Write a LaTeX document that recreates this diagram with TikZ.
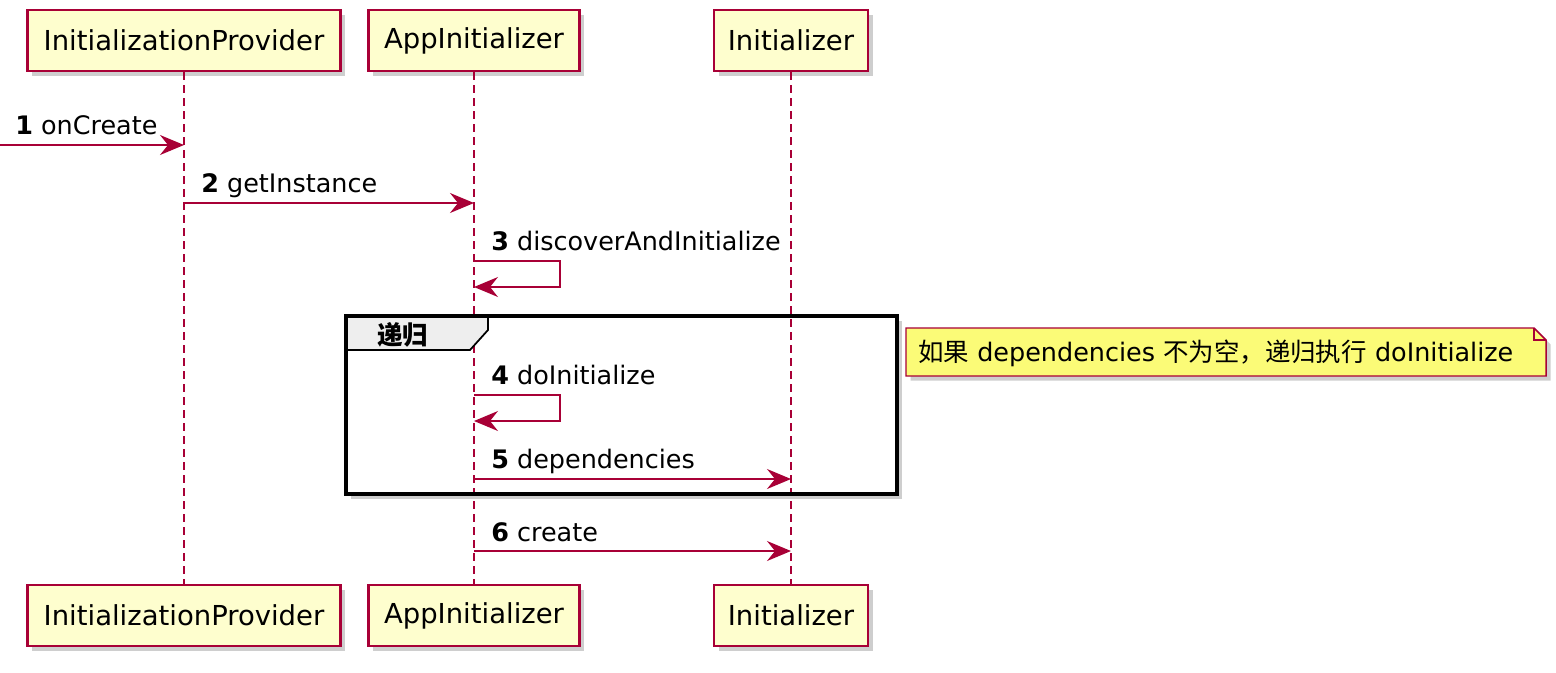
\documentclass[tikz,border=0pt]{standalone}
\usepackage{fontspec}
\setmainfont{DejaVu Sans}
\newfontfamily\cjk{Noto Sans CJK SC}
\usetikzlibrary{arrows.meta,shadows,calc}
\definecolor{pborder}{HTML}{A80036}
\definecolor{pfill}{HTML}{FEFECE}
\definecolor{notefill}{HTML}{FBFB77}
\definecolor{tabfill}{HTML}{EEEEEE}
\begin{document}
\begin{tikzpicture}[x=0.75pt,y=-0.75pt,
  shad/.style={drop shadow={shadow xshift=3.5pt,shadow yshift=-3.5pt,fill=black!38}},
  part/.style={draw=pborder,fill=pfill,line width=2pt,minimum height=61*0.75pt,inner sep=0pt,
    font=\fontsize{20.6}{24}\selectfont,shad},
  life/.style={draw=pborder,line width=1.1pt,dash pattern=on 6pt off 3.75pt},
  msg/.style={draw=pborder,line width=1.1pt,-{Stealth[length=18pt,width=15pt,inset=6pt]}},
  lbl/.style={anchor=base west,inner sep=0pt,font=\fontsize{19.1}{23}\selectfont},
]
\fill[white] (0,0) rectangle (1556,672);
\useasboundingbox (0,0) rectangle (1556,672);

% participants
\node[part,minimum width=313*0.75pt] (ipT) at (184,40.5) {InitializationProvider};
\node[part,minimum width=211*0.75pt] (aiT) at (474,40.5) {AppInitializer};
\node[part,minimum width=154*0.75pt] (inT) at (791,40.5) {Initializer};
\node[part,minimum width=313*0.75pt] (ipB) at (184,615.5) {InitializationProvider};
\node[part,minimum width=211*0.75pt] (aiB) at (474,615.5) {AppInitializer};
\node[part,minimum width=154*0.75pt] (inB) at (791,615.5) {Initializer};

% group background
\fill[white,shad] (346,316) rectangle (897,494);

% lifelines
\draw[life] (ipT.south) -- (ipB.north);
\draw[life] (aiT.south) -- (aiB.north);
\draw[life] (inT.south) -- (inB.north);

% group tab and frame
\filldraw[fill=tabfill,draw=black,line width=1.3pt] (346,316) -- (488,316) -- (488,330) -- (470,350) -- (346,350) -- cycle;
\draw[black,line width=2.4pt] (346,316) rectangle (897,494);
\node[anchor=west,inner sep=0pt,font=\cjk\bfseries\fontsize{19.1}{23}\selectfont] (glbl) at (377,335) {递归};

% row coordinates
\coordinate (r1) at (0,145);
\coordinate (r2) at (0,203);
\coordinate (r3a) at (0,261);
\coordinate (r3b) at (0,287);
\coordinate (r4a) at (0,395);
\coordinate (r4b) at (0,421);
\coordinate (r5) at (0,479);
\coordinate (r6) at (0,551);

% message 1
\coordinate (m1e) at (ipT.south |- r1);
\draw[msg] (r1) -- (m1e);
\node[lbl] (l1) at (15,134) {\textbf{1} onCreate};
% message 2
\coordinate (m2s) at (ipT.south |- r2);
\coordinate (m2e) at (aiT.south |- r2);
\draw[msg] (m2s) -- (m2e);
\node[lbl] (l2) at (201,192) {\textbf{2} getInstance};
% message 3
\coordinate (m3s) at (aiT.south |- r3a);
\coordinate (m3e) at (aiT.south |- r3b);
\draw[msg] (m3s) -- ++(86,0) -- ++(0,26) -- (m3e);
\node[lbl] (l3) at (491,250) {\textbf{3} discoverAndInitialize};
% message 4
\coordinate (m4s) at (aiT.south |- r4a);
\coordinate (m4e) at (aiT.south |- r4b);
\draw[msg] (m4s) -- ++(86,0) -- ++(0,26) -- (m4e);
\node[lbl] (l4) at (491,384) {\textbf{4} doInitialize};
% message 5
\coordinate (m5s) at (aiT.south |- r5);
\coordinate (m5e) at (inT.south |- r5);
\draw[msg] (m5s) -- (m5e);
\node[lbl] (l5) at (491,468) {\textbf{5} dependencies};
% message 6
\coordinate (m6s) at (aiT.south |- r6);
\coordinate (m6e) at (inT.south |- r6);
\draw[msg] (m6s) -- (m6e);
\node[lbl] (l6) at (491,541) {\textbf{6} create};

% note
\filldraw[fill=notefill,draw=pborder,line width=1.1pt,shad] (906,328) -- (1534,328) -- (1546,340) -- (1546,376) -- (906,376) -- cycle;
\draw[pborder,line width=1.1pt] (1534,328) -- (1534,340) -- (1546,340);
\node[anchor=west,inner sep=0pt,font=\fontsize{19.1}{23}\selectfont] (note) at (918,353)
  {{\cjk 如果} dependencies {\cjk 不为空，递归执行} doInitialize};
\end{tikzpicture}
\end{document}
